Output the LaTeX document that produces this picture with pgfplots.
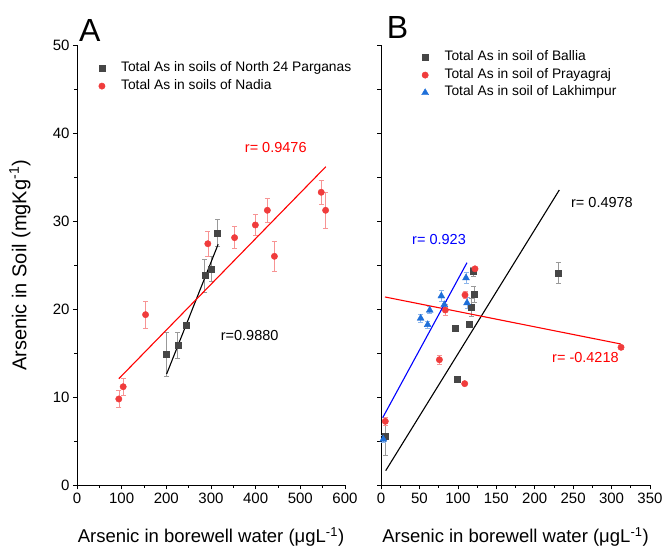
\documentclass[border=0pt]{standalone}
\usepackage{pgfplots}
\pgfplotsset{compat=1.18}
\usepackage{fontspec}
\setmainfont{Liberation Sans}
\definecolor{mred}{RGB}{240,60,60}
\definecolor{mblue}{RGB}{30,111,217}
\definecolor{mgray}{RGB}{70,70,70}
\pgfplotsset{
  panel/.style={scale only axis, height=440pt, ymin=0, ymax=50,
    axis x line*=bottom, axis y line*=left, tick align=outside,
    tick style={black, line width=0.7pt}, major tick length=4pt, minor tick length=2.5pt,
    axis line style={line width=0.8pt},
    ticklabel style={font=\fontsize{15}{17}\selectfont},
    /pgf/number format/assume math mode=true,
    clip=false,
    xlabel style={font=\fontsize{18.5}{21}\selectfont, at={(axis description cs:0.5,-0.1175)}, anchor=center},
    ylabel style={font=\fontsize{20}{22}\selectfont, at={(axis description cs:-0.2127,0.5)}, anchor=center},
    legend cell align=left,
    legend style={draw=none, fill=none, inner sep=0pt, row sep=0pt, anchor=north west,
      font=\fontsize{13.8}{16}\selectfont,
      nodes={inner xsep=3pt, inner ysep=2pt, text height=10pt, text depth=3.6pt},
      /tikz/every odd column/.append style={column sep=13pt}},
  },
  sqm/.style={only marks, mark=square*, mark size=3pt, color=mgray},
  rcm/.style={only marks, mark=*, mark size=3.2pt, color=mred},
  btm/.style={only marks, mark=triangle*, mark size=4pt, color=mblue},
  sq/.style={forget plot, sqm,
    error bars/.cd, y dir=both, y explicit,
    error bar style={color=gray!80, line width=0.6pt},
    error mark options={rotate=90, color=gray!80, mark size=2.5pt, line width=0.6pt}},
  rc/.style={forget plot, rcm,
    error bars/.cd, y dir=both, y explicit,
    error bar style={color=mred!55, line width=0.6pt},
    error mark options={rotate=90, color=mred!55, mark size=2.5pt, line width=0.6pt}},
  bt/.style={forget plot, btm,
    error bars/.cd, y dir=both, y explicit,
    error bar style={color=mblue!50, line width=0.6pt},
    error mark options={rotate=90, color=mblue!50, mark size=2.5pt, line width=0.6pt}},
}
\begin{document}
\begin{tikzpicture}
\useasboundingbox (0,0) rectangle (665pt,548pt);
\begin{axis}[panel, at={(77pt,62.7pt)}, anchor=south west, width=268pt,
  xmin=0, xmax=600, xtick={0,100,...,600}, minor x tick num=1,
  ytick={0,10,...,50}, minor y tick num=1,
  xlabel={Arsenic in borewell water (μgL\textsuperscript{-1})},
  ylabel={Arsenic in Soil (mgKg\textsuperscript{-1})},
  legend style={at={(axis description cs:0.0803,0.9677)}}]
\addlegendimage{sqm}
\addlegendentry{Total As in soils of North 24 Parganas}
\addlegendimage{rcm}
\addlegendentry{Total As in soils of Nadia}
\addplot[sq] table[x=x, y=y, y error=e] {
x y e
200.7 14.89 2.47
225.5 15.94 1.46
243.4 18.14 0.3
286.0 23.82 1.9
300.4 24.58 1.45
314.6 28.67 1.5
};
\addplot[rc] table[x=x, y=y, y error=e] {
x y e
93.6 9.81 1.0
103.4 11.2 1.0
153.5 19.39 1.5
292.9 27.45 1.45
352.8 28.14 1.25
399.3 29.58 1.2
426.2 31.25 1.4
442.0 26.02 1.7
546.8 33.3 1.33
556.6 31.25 2.1
};
\addplot[black, line width=1.1pt, forget plot] coordinates {(200.7,12.65) (316,27.39)};
\addplot[red, line width=1.1pt, forget plot] coordinates {(93.6,12.11) (557,36.2)};
\node[red, font=\fontsize{14.5}{16}\selectfont] at (axis cs:445,38.4) {r= 0.9476};
\node[black, font=\fontsize{14.5}{16}\selectfont] at (axis cs:386.5,17.0) {r=0.9880};
\node[anchor=base west, inner sep=0pt, font=\fontsize{32}{34}\selectfont] at (axis description cs:0.0075,1.008) {A};
\end{axis}
\begin{axis}[panel, at={(381pt,62.7pt)}, anchor=south west, width=269pt,
  xmin=0, xmax=350, xtick={0,50,...,350}, minor x tick num=1,
  ytick={0,5,...,50}, yticklabels={},
  xlabel={Arsenic in borewell water (μgL\textsuperscript{-1})},
  legend style={at={(axis description cs:0.1506,0.9927)}}]
\addlegendimage{sqm}
\addlegendentry{Total As in soil of Ballia}
\addlegendimage{rcm}
\addlegendentry{Total As in soil of Prayagraj}
\addlegendimage{btm}
\addlegendentry{Total As in soil of Lakhimpur}
\addplot[sq] table[x=x, y=y, y error=e] {
x y e
5.6 5.57 2.2
96.7 17.8 0.2
98.5 12.0 0.2
114.5 18.25 0.2
118.0 20.26 1.0
121.0 21.66 0.9
119.7 24.3 0.5
230.3 24.1 1.2
};
\addplot[rc] table[x=x, y=y, y error=e] {
x y e
5.6 7.27 0.5
76.0 14.27 0.5
108.9 11.55 0.2
109.3 21.63 0.4
83.7 19.92 0.6
122.3 24.6 0.2
312.3 15.68 0.2
};
\addplot[bt] table[x=x, y=y, y error=e] {
x y e
3.0 5.23 0.4
51.6 18.98 0.5
60.7 18.25 0.4
63.4 19.89 0.4
78.5 21.51 0.6
82.4 20.52 0.4
110.6 23.56 0.6
111.9 20.72 0.6
};
\addplot[black, line width=1.1pt, forget plot] coordinates {(6.1,1.66) (232,33.56)};
\addplot[red, line width=1.1pt, forget plot] coordinates {(5.2,21.4) (311.9,16.06)};
\addplot[blue, line width=1.1pt, forget plot] coordinates {(2.2,7.68) (111.9,25.3)};
\node[black, font=\fontsize{14.5}{16}\selectfont] at (axis cs:287.5,32.1) {r= 0.4978};
\node[blue, font=\fontsize{14.5}{16}\selectfont] at (axis cs:75.5,27.9) {r= 0.923};
\node[red, font=\fontsize{14.5}{16}\selectfont] at (axis cs:266,14.5) {r= -0.4218};
\node[anchor=base west, inner sep=0pt, font=\fontsize{32}{34}\selectfont] at (axis description cs:0.021,1.016) {B};
\end{axis}
\end{tikzpicture}
\end{document}
